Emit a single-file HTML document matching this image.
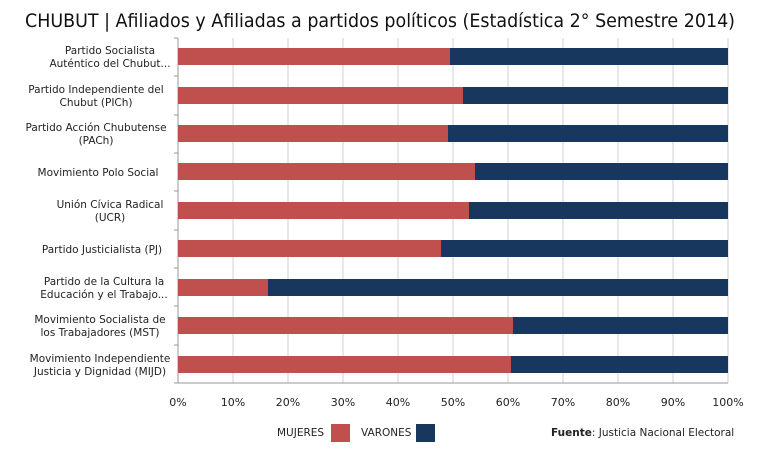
<!DOCTYPE html>
<html><head><meta charset="utf-8"><style>
html,body{margin:0;padding:0;background:#fff;}
body{width:770px;height:452px;overflow:hidden;font-family:"DejaVu Sans","Liberation Sans",sans-serif;}
</style></head><body>
<svg width="770" height="452" xmlns="http://www.w3.org/2000/svg" font-family="DejaVu Sans, Liberation Sans, sans-serif">
<text x="25" y="27" font-size="19" fill="#111" textLength="710" lengthAdjust="spacingAndGlyphs">CHUBUT | Afiliados y Afiliadas a partidos políticos (Estadística 2° Semestre 2014)</text>
<g stroke="#d0d0d0" stroke-width="1">
<line x1="233" y1="38" x2="233" y2="383"/><line x1="288" y1="38" x2="288" y2="383"/><line x1="343" y1="38" x2="343" y2="383"/><line x1="398" y1="38" x2="398" y2="383"/><line x1="453" y1="38" x2="453" y2="383"/><line x1="508" y1="38" x2="508" y2="383"/><line x1="563" y1="38" x2="563" y2="383"/><line x1="618" y1="38" x2="618" y2="383"/><line x1="673" y1="38" x2="673" y2="383"/><line x1="728" y1="38" x2="728" y2="383"/>
</g>
<g stroke="#999" stroke-width="1">
<line x1="178" y1="38" x2="178" y2="383"/><line x1="178" y1="383" x2="728" y2="383"/>
<line x1="174" y1="38" x2="178" y2="38"/><line x1="174" y1="76" x2="178" y2="76"/><line x1="174" y1="115" x2="178" y2="115"/><line x1="174" y1="153" x2="178" y2="153"/><line x1="174" y1="191" x2="178" y2="191"/><line x1="174" y1="230" x2="178" y2="230"/><line x1="174" y1="268" x2="178" y2="268"/><line x1="174" y1="306" x2="178" y2="306"/><line x1="174" y1="345" x2="178" y2="345"/><line x1="174" y1="383" x2="178" y2="383"/>
</g>
<g>
<rect x="178" y="48" width="272" height="17" fill="#c0504d"/><rect x="450" y="48" width="278" height="17" fill="#17375e"/>
<rect x="178" y="87" width="285" height="17" fill="#c0504d"/><rect x="463" y="87" width="265" height="17" fill="#17375e"/>
<rect x="178" y="125" width="270" height="17" fill="#c0504d"/><rect x="448" y="125" width="280" height="17" fill="#17375e"/>
<rect x="178" y="163" width="297" height="17" fill="#c0504d"/><rect x="475" y="163" width="253" height="17" fill="#17375e"/>
<rect x="178" y="202" width="291" height="17" fill="#c0504d"/><rect x="469" y="202" width="259" height="17" fill="#17375e"/>
<rect x="178" y="240" width="263" height="17" fill="#c0504d"/><rect x="441" y="240" width="287" height="17" fill="#17375e"/>
<rect x="178" y="279" width="90" height="17" fill="#c0504d"/><rect x="268" y="279" width="460" height="17" fill="#17375e"/>
<rect x="178" y="317" width="335" height="17" fill="#c0504d"/><rect x="513" y="317" width="215" height="17" fill="#17375e"/>
<rect x="178" y="356" width="333" height="17" fill="#c0504d"/><rect x="511" y="356" width="217" height="17" fill="#17375e"/>
</g>
<g font-size="10.5" fill="#222" text-anchor="middle">
<text x="110" y="54">Partido Socialista</text><text x="110" y="67">Auténtico del Chubut...</text>
<text x="96" y="93">Partido Independiente del</text><text x="96" y="106">Chubut (PICh)</text>
<text x="96" y="131">Partido Acción Chubutense</text><text x="96" y="144">(PACh)</text>
<text x="98" y="176">Movimiento Polo Social</text>
<text x="110" y="208">Unión Cívica Radical</text><text x="110" y="221">(UCR)</text>
<text x="102" y="253">Partido Justicialista (PJ)</text>
<text x="104" y="285">Partido de la Cultura la</text><text x="104" y="298">Educación y el Trabajo...</text>
<text x="100" y="323">Movimiento Socialista de</text><text x="100" y="336">los Trabajadores (MST)</text>
<text x="100" y="362">Movimiento Independiente</text><text x="100" y="375">Justicia y Dignidad (MIJD)</text>
</g>
<g font-size="11" fill="#222" text-anchor="middle">
<text x="178" y="406">0%</text><text x="233" y="406">10%</text><text x="288" y="406">20%</text><text x="343" y="406">30%</text><text x="398" y="406">40%</text><text x="453" y="406">50%</text><text x="508" y="406">60%</text><text x="563" y="406">70%</text><text x="618" y="406">80%</text><text x="673" y="406">90%</text><text x="728" y="406">100%</text>
</g>
<text x="277" y="436" font-size="10.5" fill="#222">MUJERES</text>
<rect x="331" y="424" width="19" height="18" fill="#c0504d"/>
<text x="361" y="436" font-size="10.5" fill="#222">VARONES</text>
<rect x="416" y="424" width="19" height="18" fill="#17375e"/>
<text x="551" y="436" font-size="10.5" fill="#222"><tspan font-weight="bold">Fuente</tspan>: Justicia Nacional Electoral</text>
</svg>
</body></html>
